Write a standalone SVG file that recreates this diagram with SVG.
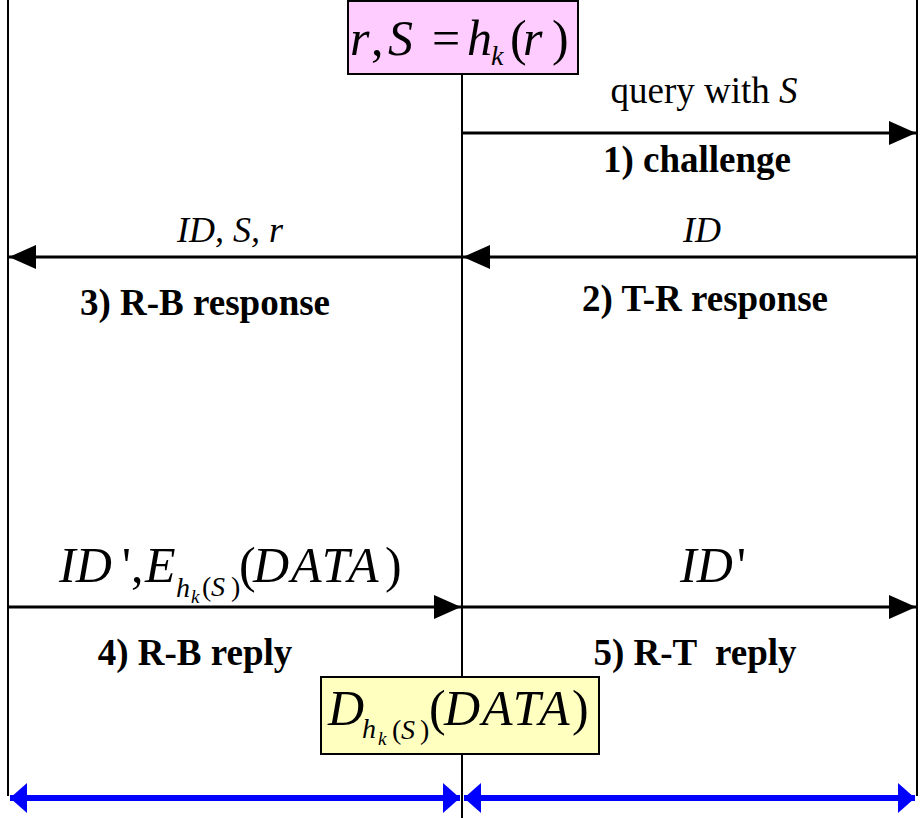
<svg xmlns="http://www.w3.org/2000/svg" width="920" height="818" viewBox="0 0 920 818">
<defs>
<marker id="ah" markerUnits="userSpaceOnUse" markerWidth="28" markerHeight="24" refX="27" refY="12" orient="auto"><path d="M0,0 L27,12 L0,24 Z" fill="#000"/></marker>
<marker id="bh" markerUnits="userSpaceOnUse" markerWidth="18" markerHeight="30" refX="17" refY="15" orient="auto-start-reverse"><path d="M0,0 L17,15 L0,30 Z" fill="#0000ff"/></marker>
</defs>
<style>
text{fill:#000}
.lbl{font-size:37px}
.sm{font-size:36px}
.b{font-weight:bold;font-size:37px}
.i{font-style:italic}
.m{font-size:50px}
.s1{font-size:28px}
.s2{font-size:19px}
.ls{letter-spacing:2px}
.life{stroke:#000;stroke-width:2;fill:none}
.msg{stroke:#000;stroke-width:3;fill:none;marker-end:url(#ah)}
.blue{stroke:#0000ff;stroke-width:6;fill:none;marker-start:url(#bh);marker-end:url(#bh)}
</style>
<g id="lifelines">
<line class="life" x1="8" y1="0" x2="8" y2="796"/>
<line class="life" x1="462" y1="74" x2="462" y2="818"/>
<line class="life" x1="917" y1="0" x2="917" y2="796"/>
</g>
<g id="connectors">
<line class="msg" x1="462" y1="133" x2="916" y2="133"/>
<line class="msg" x1="917" y1="257" x2="463" y2="257"/>
<line class="msg" x1="462" y1="257" x2="9" y2="257"/>
<line class="msg" x1="8" y1="607" x2="461" y2="607"/>
<line class="msg" x1="462" y1="607" x2="916" y2="607"/>
<line class="blue" x1="10" y1="798" x2="460" y2="798"/>
<line class="blue" x1="464" y1="798" x2="915" y2="798"/>
</g>
<g id="node-top">
<rect x="348" y="1" width="230" height="73" fill="#ffccff" stroke="#000" stroke-width="2"/>
<text font-family="Liberation Serif" class="m" y="55"><tspan class="i" x="350">r</tspan><tspan x="371">,</tspan><tspan class="i" x="388">S</tspan><tspan x="432">=</tspan><tspan class="i" x="467">h</tspan><tspan class="i" font-size="28" x="491" y="65">k</tspan><tspan x="510" y="55">(</tspan><tspan class="i" x="523">r</tspan><tspan x="552">)</tspan></text>
</g>
<g id="node-bottom">
<rect x="321" y="677" width="278" height="77" fill="#ffffc0" stroke="#000" stroke-width="2"/>
<text font-family="Liberation Serif" class="m" y="725"><tspan class="i" x="328">D</tspan><tspan class="i s1" x="362" y="738">h</tspan><tspan class="i s2" x="378" y="745">k</tspan><tspan class="s1" x="392" y="739">(</tspan><tspan class="i s1" x="401">S</tspan><tspan class="s1" x="420">)</tspan><tspan x="429" y="725">(</tspan><tspan class="i ls" x="444">DATA</tspan><tspan x="572">)</tspan></text>
</g>
<g id="labels">
<text font-family="Liberation Serif" class="lbl" x="704" y="103" text-anchor="middle">query with <tspan class="i">S</tspan></text>
<text font-family="Liberation Serif" class="b" x="697" y="172" text-anchor="middle">1) challenge</text>
<text font-family="Liberation Serif" class="sm i" x="230" y="242" text-anchor="middle">ID, S, r</text>
<text font-family="Liberation Serif" class="sm i" x="702" y="242" text-anchor="middle">ID</text>
<text font-family="Liberation Serif" class="b" x="205" y="315" text-anchor="middle">3) R-B response</text>
<text font-family="Liberation Serif" class="b" x="705" y="311" text-anchor="middle">2) T-R response</text>
<text font-family="Liberation Serif" class="m" y="582"><tspan class="i" x="59">ID</tspan><tspan x="122">',</tspan><tspan class="i" x="145">E</tspan><tspan class="i s1" x="176" y="597">h</tspan><tspan class="i s2" x="191" y="603">k</tspan><tspan class="s1" x="202" y="596">(</tspan><tspan class="i s1" x="211">S</tspan><tspan class="s1" x="231">)</tspan><tspan x="239" y="582">(</tspan><tspan class="i ls" x="253">DATA</tspan><tspan x="385">)</tspan></text>
<text font-family="Liberation Serif" class="m" y="582"><tspan class="i" x="680">ID</tspan><tspan x="737">'</tspan></text>
<text font-family="Liberation Serif" class="b" x="195" y="665" text-anchor="middle">4) R-B reply</text>
<text font-family="Liberation Serif" class="b" x="695" y="665" text-anchor="middle" xml:space="preserve">5) R-T  reply</text>
</g>
</svg>
